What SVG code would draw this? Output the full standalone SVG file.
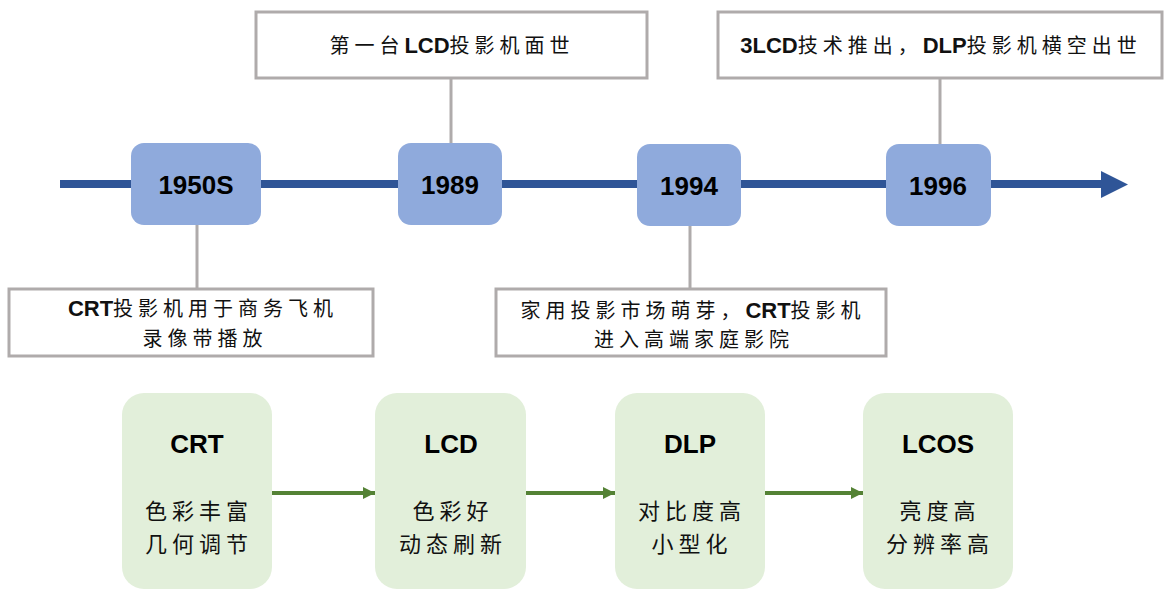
<svg xmlns="http://www.w3.org/2000/svg" width="1170" height="589" viewBox="0 0 1170 589">
  <style>
    .year { fill: #8FAADC; }
    .year-t { font-family: "Liberation Sans", Arial, sans-serif; font-weight: bold; font-size: 26px; fill: #000; text-anchor: middle; }
    .note { fill: #FFFFFF; stroke: #AFABAB; stroke-width: 3; }
    .note-t { font-family: "Liberation Sans", "Noto Sans CJK SC", sans-serif; font-size: 20px; fill: #111; text-anchor: middle; letter-spacing: 5px; }
    .b { font-weight: bold; font-size: 22px; letter-spacing: 0; }
    .stem { stroke: #AFABAB; stroke-width: 3; fill: none; }
    .tech { fill: #E2EFDA; }
    .tech-h { font-family: "Liberation Sans", Arial, sans-serif; font-weight: bold; font-size: 26px; fill: #000; text-anchor: middle; }
    .tech-t { font-family: "Noto Sans CJK SC", sans-serif; font-size: 22px; fill: #111; text-anchor: middle; letter-spacing: 5px; }
    .flow { stroke: #548235; stroke-width: 4; fill: none; marker-end: url(#ga); }
  </style>
  <defs>
    <marker id="ga" viewBox="0 0 10 10" refX="10" refY="5" markerWidth="3.5" markerHeight="3" markerUnits="strokeWidth" orient="auto">
      <path d="M0,0 L10,5 L0,10 Z" fill="#548235"/>
    </marker>
  </defs>

  <!-- connectors: timeline axis, stems to notes, technology flow -->
  <g id="connectors">
    <line x1="60" y1="184" x2="1103" y2="184" stroke="#2F5597" stroke-width="8"/>
    <polygon points="1101,171 1128,184.5 1101,198" fill="#2F5597"/>
    <line class="stem" x1="451" y1="78" x2="451" y2="143"/>
    <line class="stem" x1="940" y1="78" x2="940" y2="144"/>
    <line class="stem" x1="197" y1="225" x2="197" y2="289"/>
    <line class="stem" x1="690" y1="226" x2="690" y2="289"/>
    <line class="flow" x1="272" y1="493" x2="375" y2="493"/>
    <line class="flow" x1="526" y1="493" x2="615" y2="493"/>
    <line class="flow" x1="765" y1="493" x2="863" y2="493"/>
  </g>

  <!-- year markers -->
  <g id="y1950s">
    <rect class="year" x="131" y="143" width="130" height="82" rx="13"/>
    <text class="year-t" x="196" y="194">1950S</text>
  </g>
  <g id="y1989">
    <rect class="year" x="398" y="143" width="104" height="82" rx="13"/>
    <text class="year-t" x="450" y="194">1989</text>
  </g>
  <g id="y1994">
    <rect class="year" x="637" y="144" width="104" height="82" rx="13"/>
    <text class="year-t" x="689" y="195">1994</text>
  </g>
  <g id="y1996">
    <rect class="year" x="886" y="144" width="105" height="82" rx="13"/>
    <text class="year-t" x="938" y="195">1996</text>
  </g>

  <!-- event notes -->
  <g id="note1989">
    <rect class="note" x="256" y="12" width="391" height="66"/>
    <text class="note-t" x="452" y="53">第一台<tspan class="b">LCD</tspan>投影机面世</text>
  </g>
  <g id="note1996">
    <rect class="note" x="718" y="12" width="444" height="66"/>
    <text class="note-t" x="941" y="53"><tspan class="b">3LCD</tspan>技术推出，<tspan class="b">DLP</tspan>投影机横空出世</text>
  </g>
  <g id="note1950s">
    <rect class="note" x="9" y="289" width="364" height="67"/>
    <text class="note-t" x="203" y="316"><tspan class="b">CRT</tspan>投影机用于商务飞机</text>
    <text class="note-t" x="205" y="346">录像带播放</text>
  </g>
  <g id="note1994">
    <rect class="note" x="496" y="289" width="390" height="67"/>
    <text class="note-t" x="693" y="318">家用投影市场萌芽，<tspan class="b">CRT</tspan>投影机</text>
    <text class="note-t" x="694" y="347">进入高端家庭影院</text>
  </g>

  <!-- display technologies -->
  <g id="crt">
    <rect class="tech" x="122" y="393" width="150" height="196" rx="22"/>
    <text class="tech-h" x="197" y="453">CRT</text>
    <text class="tech-t" x="199" y="519">色彩丰富</text>
    <text class="tech-t" x="199" y="552">几何调节</text>
  </g>
  <g id="lcd">
    <rect class="tech" x="375" y="393" width="151" height="196" rx="22"/>
    <text class="tech-h" x="451" y="453">LCD</text>
    <text class="tech-t" x="453" y="519">色彩好</text>
    <text class="tech-t" x="453" y="552">动态刷新</text>
  </g>
  <g id="dlp">
    <rect class="tech" x="615" y="393" width="150" height="196" rx="22"/>
    <text class="tech-h" x="690" y="453">DLP</text>
    <text class="tech-t" x="692" y="519">对比度高</text>
    <text class="tech-t" x="692" y="552">小型化</text>
  </g>
  <g id="lcos">
    <rect class="tech" x="863" y="393" width="150" height="196" rx="22"/>
    <text class="tech-h" x="938" y="453">LCOS</text>
    <text class="tech-t" x="940" y="519">亮度高</text>
    <text class="tech-t" x="940" y="552">分辨率高</text>
  </g>
</svg>
